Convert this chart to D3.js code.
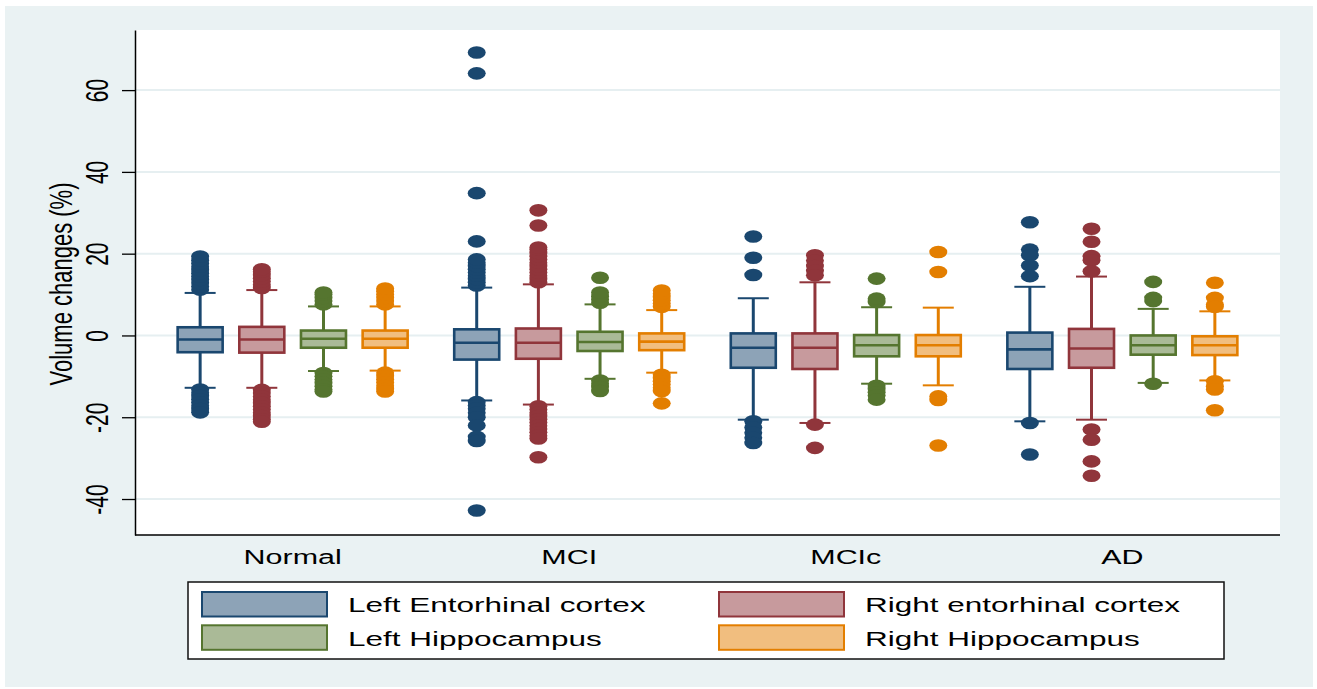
<!DOCTYPE html>
<html>
<head>
<meta charset="utf-8">
<script src="https://cdn.jsdelivr.net/npm/d3@7"></script>
<style>
  body { margin: 0; background: #ffffff; }
  text { font-family: "Liberation Sans", Arial, Helvetica, sans-serif; fill: #000000; }
</style>
</head>
<body>
<script>
// kategorier och serier
var groups = ["Normal", "MCI", "MCIc", "AD"];
var series = ["Left Entorhinal cortex", "Right entorhinal cortex", "Left Hippocampus", "Right Hippocampus"];
var lineColors = ["#1a476f", "#90353b", "#55752f", "#e37e00"];
var fillColors = ["#8da3b7", "#c79a9d", "#aaba97", "#f1be7f"];
var yTicks = [-40, -20, 0, 20, 40, 60];

// box-statistik per serie, en siffra per grupp (Normal, MCI, MCIc, AD)
var upperQuartile = [
  [2.0, 1.5, 0.5, 0.7],
  [2.1, 1.7, 0.5, 1.6],
  [1.2, 0.9, 0.1, 0.0],
  [1.2, 0.5, 0.1, -0.2]
];
var medians = [
  [-1.0, -1.8, -3.0, -3.4],
  [-1.0, -1.8, -3.0, -3.2],
  [-0.8, -1.6, -2.4, -2.4],
  [-0.8, -1.5, -2.4, -2.4]
];
var lowerQuartile = [
  [-4.1, -5.9, -7.9, -8.2],
  [-4.2, -5.7, -8.2, -7.9],
  [-3.0, -3.8, -5.1, -4.7],
  [-3.0, -3.6, -5.1, -4.8]
];
var upperWhisker = [
  [10.4, 11.7, 9.1, 11.9],
  [11.1, 12.5, 13.0, 14.4],
  [7.1, 7.6, 6.9, 6.5],
  [7.1, 6.2, 6.8, 5.9]
];
var lowerWhisker = [
  [-12.8, -15.9, -20.6, -21.0],
  [-12.8, -16.9, -21.4, -20.6],
  [-8.7, -10.6, -11.8, -11.6],
  [-8.6, -9.1, -12.2, -11.0]
];

// outliers per serie och grupp
var outliersLeftEntorhinal = [
  [11.2, 12.0, 12.8, 13.6, 14.4, 15.2, 16.0, 16.8, 17.6, 18.4, 19.3, -13.2, -14.0, -14.8, -15.6, -16.4, -17.2, -18.0, -18.8],
  [69.2, 64.1, 34.8, 23.0, 12.2, 13.0, 13.8, 14.6, 15.4, 16.2, 17.0, 17.8, 18.6, -16.3, -17.1, -17.9, -18.9, -20.0, -22.0, -24.8, -25.8, -42.8],
  [24.2, 19.0, 14.8, -21.0, -22.5, -23.8, -25.0, -26.3],
  [27.7, 21.0, 19.6, 17.1, 14.5, -21.4, -29.1]
];
var outliersRightEntorhinal = [
  [11.6, 12.4, 13.2, 14.0, 14.8, 15.6, 16.2, -13.3, -14.1, -14.9, -15.7, -16.5, -17.3, -18.1, -18.9, -19.7, -20.5, -21.1],
  [30.6, 26.9, 13.0, 13.8, 14.6, 15.4, 16.2, 17.0, 17.8, 18.6, 19.4, 20.2, 21.0, 21.5, -17.3, -18.1, -18.9, -19.7, -20.5, -21.3, -22.1, -22.9, -23.7, -24.5, -25.2, -29.8],
  [19.6, 18.3, 17.0, 15.8, 14.7, -21.8, -27.5],
  [26.1, 22.9, 19.4, 18.4, 15.7, -23.0, -25.5, -30.8, -34.3]
];
var outliersLeftHippocampus = [
  [7.6, 8.4, 9.2, 10.0, 10.5, -9.2, -10.0, -10.8, -11.6, -12.4, -13.2, -13.7],
  [14.1, 8.0, 8.8, 9.6, 10.5, -11.0, -11.8, -12.6, -13.6],
  [13.9, 8.2, 9.0, -12.3, -13.1, -13.9, -14.7, -15.7],
  [13.1, 9.2, 8.4, -11.8]
];
var outliersRightHippocampus = [
  [7.6, 8.4, 9.2, 10.0, 10.8, 11.5, -9.1, -9.9, -10.7, -11.5, -12.3, -13.1, -13.7],
  [7.0, 7.8, 8.6, 9.4, 10.2, 11.0, -9.6, -10.4, -11.2, -12.0, -12.8, -13.6, -16.6],
  [20.4, 15.5, -14.9, -15.8, -26.9],
  [12.9, 9.2, 7.6, 7.0, -11.2, -12.4, -13.2, -18.3]
];
var outliers = [outliersLeftEntorhinal, outliersRightEntorhinal, outliersLeftHippocampus, outliersRightHippocampus];

// plotytan
var plotLeft = 135, plotRight = 1280, plotTop = 30, plotBottom = 535;
var stretch = 1.5;  // texten i originalet är utdragen på bredden

var svg = d3.select("body").append("svg")
  .attr("width", 1317)
  .attr("height", 689);

// bakgrund
svg.append("rect")
  .attr("x", 5).attr("y", 6)
  .attr("width", 1308).attr("height", 681)
  .attr("fill", "#eaf2f3");

svg.append("rect")
  .attr("x", plotLeft).attr("y", plotTop)
  .attr("width", plotRight - plotLeft).attr("height", plotBottom - plotTop)
  .attr("fill", "#ffffff");

// skalor
var y = d3.scaleLinear()
  .domain([-48.8, 74.7])
  .range([plotBottom, plotTop]);

var x = d3.scalePoint()
  .domain(groups)
  .range([plotLeft, plotRight])
  .padding(0.57);

var xInner = d3.scalePoint()
  .domain(series)
  .range([-92.5, 92.5]);

var boxWidth = 45;
var capWidth = 31;

// rutnät
svg.selectAll("line.grid")
  .data(yTicks)
  .enter()
  .append("line")
  .attr("class", "grid")
  .attr("x1", plotLeft).attr("x2", plotRight)
  .attr("y1", function(d) { return y(d); })
  .attr("y2", function(d) { return y(d); })
  .attr("stroke", "#e6eff1")
  .attr("stroke-width", 2);

// y-axel
var yAxis = svg.append("g")
  .attr("transform", "translate(" + plotLeft + ",0)")
  .call(d3.axisLeft(y).tickValues(yTicks).tickSize(13).tickSizeOuter(0)
    .tickFormat(function(d) { return String(d); }));

yAxis.select(".domain").attr("stroke", "#000").attr("stroke-width", 1.5);
yAxis.selectAll(".tick line").attr("stroke", "#000").attr("stroke-width", 1.3);
yAxis.selectAll(".tick text")
  .attr("x", null).attr("dy", null).attr("y", null)
  .attr("text-anchor", "middle")
  .attr("font-size", 21)
  .attr("font-family", "Liberation Sans, Arial, sans-serif")
  .attr("fill", "#000")
  .attr("transform", "translate(-26.7,0) scale(" + stretch + ",1) rotate(-90)");

// y-titel
svg.append("text")
  .attr("transform", "translate(72,284) scale(1.45,1) rotate(-90)")
  .attr("text-anchor", "middle")
  .attr("font-size", 22)
  .text("Volume changes (%)");

// x-axel
svg.append("line")
  .attr("x1", plotLeft).attr("x2", plotRight)
  .attr("y1", plotBottom).attr("y2", plotBottom)
  .attr("stroke", "#000")
  .attr("stroke-width", 1.5);

svg.selectAll("text.xlabel")
  .data(groups)
  .enter()
  .append("text")
  .attr("class", "xlabel")
  .attr("text-anchor", "middle")
  .attr("font-size", 21)
  .attr("transform", function(d) { return "translate(" + x(d) + ",563.5) scale(1.45,1)"; })
  .text(function(d) { return d; });

// bygg en tabell med en rad per box
var boxes = [];
series.forEach(function(s, si) {
  groups.forEach(function(g, gi) {
    boxes.push({
      si: si,
      cx: x(g) + xInner(s),
      q1: lowerQuartile[si][gi],
      med: medians[si][gi],
      q3: upperQuartile[si][gi],
      lo: lowerWhisker[si][gi],
      hi: upperWhisker[si][gi],
      out: outliers[si][gi]
    });
  });
});

var boxGroups = svg.selectAll("g.box")
  .data(boxes)
  .enter()
  .append("g")
  .attr("class", "box");

// morrhår
boxGroups.append("line")
  .attr("x1", function(d) { return d.cx; })
  .attr("x2", function(d) { return d.cx; })
  .attr("y1", function(d) { return y(d.hi); })
  .attr("y2", function(d) { return y(d.lo); })
  .attr("stroke", function(d) { return lineColors[d.si]; })
  .attr("stroke-width", 3);

boxGroups.selectAll("line.cap")
  .data(function(d) { return [d.hi, d.lo].map(function(v) { return { v: v, cx: d.cx, si: d.si }; }); })
  .enter()
  .append("line")
  .attr("class", "cap")
  .attr("x1", function(d) { return d.cx - capWidth / 2; })
  .attr("x2", function(d) { return d.cx + capWidth / 2; })
  .attr("y1", function(d) { return y(d.v); })
  .attr("y2", function(d) { return y(d.v); })
  .attr("stroke", function(d) { return lineColors[d.si]; })
  .attr("stroke-width", 2);

// outliers
boxGroups.selectAll("ellipse")
  .data(function(d) { return d.out.map(function(v) { return { v: v, cx: d.cx, si: d.si }; }); })
  .enter()
  .append("ellipse")
  .attr("cx", function(d) { return d.cx; })
  .attr("cy", function(d) { return y(d.v); })
  .attr("rx", 9)
  .attr("ry", 6.3)
  .attr("fill", function(d) { return lineColors[d.si]; });

// lådor
boxGroups.append("rect")
  .attr("x", function(d) { return d.cx - boxWidth / 2; })
  .attr("width", boxWidth)
  .attr("y", function(d) { return y(d.q3); })
  .attr("height", function(d) { return y(d.q1) - y(d.q3); })
  .attr("fill", function(d) { return fillColors[d.si]; })
  .attr("stroke", function(d) { return lineColors[d.si]; })
  .attr("stroke-width", 2.6);

boxGroups.append("line")
  .attr("x1", function(d) { return d.cx - boxWidth / 2; })
  .attr("x2", function(d) { return d.cx + boxWidth / 2; })
  .attr("y1", function(d) { return y(d.med); })
  .attr("y2", function(d) { return y(d.med); })
  .attr("stroke", function(d) { return lineColors[d.si]; })
  .attr("stroke-width", 2.6);

// legend
svg.append("rect")
  .attr("x", 188).attr("y", 582)
  .attr("width", 1036).attr("height", 77)
  .attr("fill", "#ffffff")
  .attr("stroke", "#111")
  .attr("stroke-width", 1.5);

var legendItems = svg.selectAll("g.legend")
  .data(series)
  .enter()
  .append("g")
  .attr("class", "legend")
  .attr("transform", function(d, i) {
    return "translate(" + (i % 2 === 0 ? 202 : 719) + "," + (i < 2 ? 592 : 625.3) + ")";
  });

legendItems.append("rect")
  .attr("width", 125)
  .attr("height", 24.5)
  .attr("fill", function(d, i) { return fillColors[i]; })
  .attr("stroke", function(d, i) { return lineColors[i]; })
  .attr("stroke-width", 2);

legendItems.append("text")
  .attr("transform", "translate(146,20.3) scale(" + stretch + ",1)")
  .attr("font-size", 21)
  .text(function(d) { return d; });
</script>
</body>
</html>
